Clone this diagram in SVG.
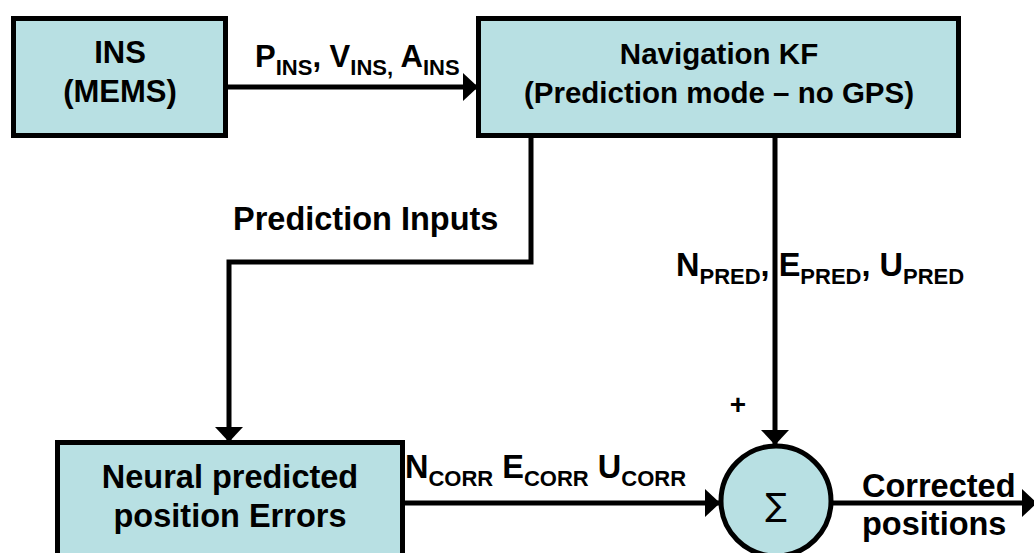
<svg xmlns="http://www.w3.org/2000/svg" width="1034" height="553" viewBox="0 0 1034 553">
  <defs>
    <marker id="arrow" markerUnits="userSpaceOnUse" markerWidth="16" markerHeight="28" viewBox="0 0 14 26" refX="13" refY="13" orient="auto">
      <path d="M0,0 L14,13 L0,26 z" fill="#000"/>
    </marker>
    <style>
      .box { fill: #b8e0e3; stroke: #000; stroke-width: 5; }
      .wire { fill: none; stroke: #000; stroke-width: 5; }
      .lbl { font-family: "Liberation Sans", Arial, sans-serif; font-weight: bold; font-size: 32.5px; fill: #000; }
      .mid { text-anchor: middle; }
      .sub { font-size: 22px; }
      .kf { font-size: 29.5px; }
      .ins { font-size: 31px; }
    </style>
  </defs>

  <rect width="1034" height="553" fill="#fff"/>

  <!-- connectors -->
  <g id="connectors">
    <path class="wire" d="M228,87 H477" marker-end="url(#arrow)"/>
    <path class="wire" d="M531,138 V262 H229 V441" marker-end="url(#arrow)"/>
    <path class="wire" d="M775,138 V444" marker-end="url(#arrow)"/>
    <path class="wire" d="M405,503 H719" marker-end="url(#arrow)"/>
    <path class="wire" d="M833,503 H1036" marker-end="url(#arrow)"/>
    <text class="lbl ins" x="255" y="67">P<tspan class="sub" dy="8">INS</tspan><tspan dy="-8">, V</tspan><tspan class="sub" dy="8">INS,</tspan><tspan dy="-8"> A</tspan><tspan class="sub" dy="8">INS</tspan></text>
    <text class="lbl" x="233" y="230">Prediction Inputs</text>
    <text class="lbl" x="676" y="276">N<tspan class="sub" dy="8">PRED</tspan><tspan dy="-8">, E</tspan><tspan class="sub" dy="8">PRED</tspan><tspan dy="-8">, U</tspan><tspan class="sub" dy="8">PRED</tspan></text>
    <text class="lbl" x="405" y="478">N<tspan class="sub" dy="8">CORR</tspan><tspan dy="-8"> E</tspan><tspan class="sub" dy="8">CORR</tspan><tspan dy="-8"> U</tspan><tspan class="sub" dy="8">CORR</tspan></text>
    <text class="lbl" x="738" y="414" style="font-size:28px" text-anchor="middle">+</text>
    <text class="lbl" x="862" y="497">Corrected</text>
    <text class="lbl" x="862" y="535">positions</text>
  </g>

  <g id="ins">
    <rect class="box" x="13.5" y="18.5" width="212" height="117"/>
    <text class="lbl mid ins" x="120" y="63">INS</text>
    <text class="lbl mid ins" x="120" y="102">(MEMS)</text>
  </g>

  <g id="nav-kf">
    <rect class="box" x="478.5" y="18.5" width="480" height="117"/>
    <text class="lbl mid kf" x="719" y="64">Navigation KF</text>
    <text class="lbl mid kf" x="719" y="103">(Prediction mode – no GPS)</text>
  </g>

  <g id="neural">
    <rect class="box" x="57.5" y="442.5" width="345" height="130"/>
    <text class="lbl mid" x="230" y="488">Neural predicted</text>
    <text class="lbl mid" x="230" y="527">position Errors</text>
  </g>

  <g id="sum">
    <circle class="box" cx="776" cy="501" r="55"/>
    <text x="776" y="516" text-anchor="middle" style="font-family:'DejaVu Sans',sans-serif;font-size:32px">∑</text>
  </g>
</svg>
